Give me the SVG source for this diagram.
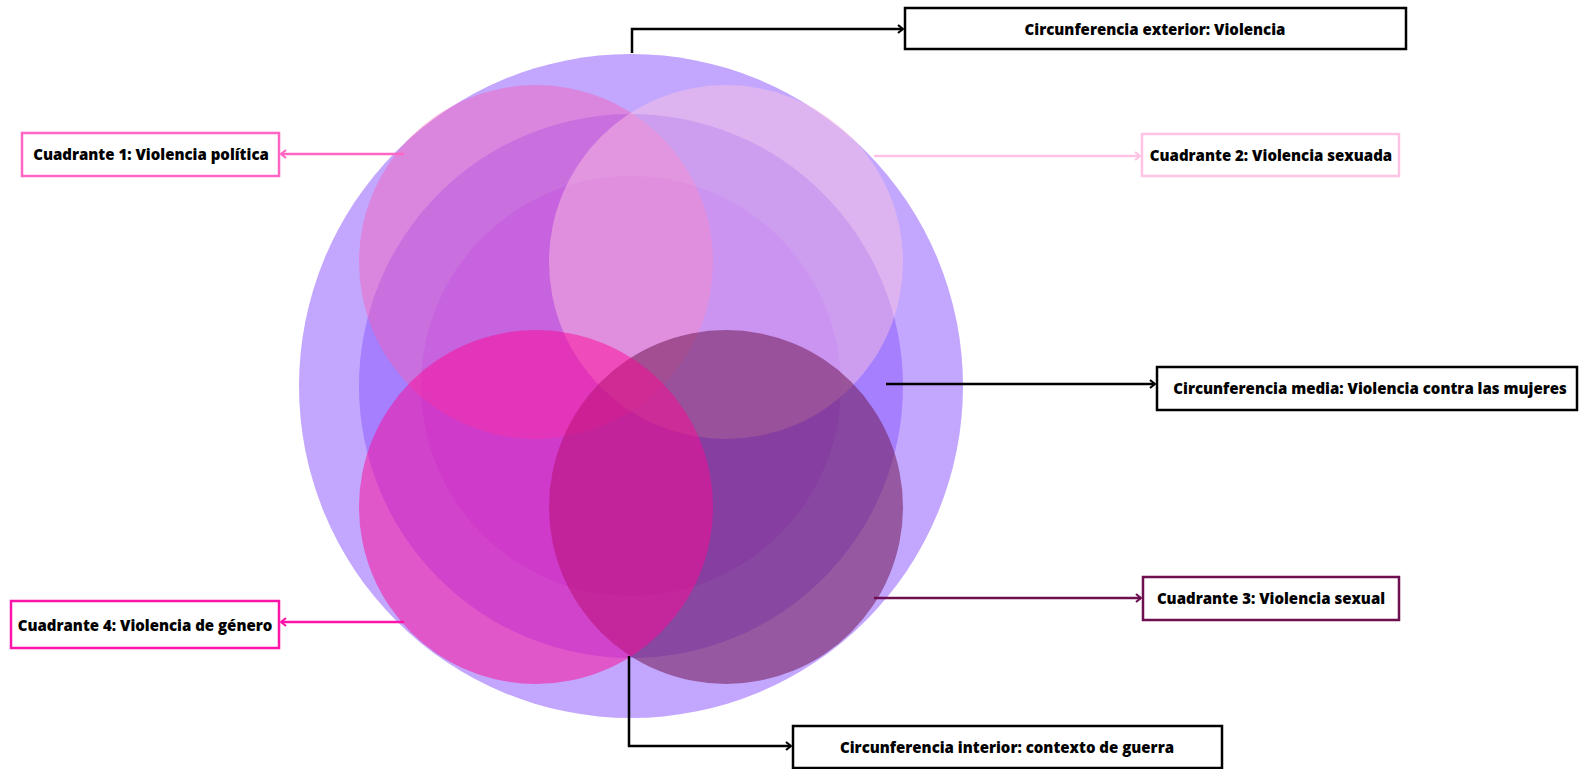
<svg xmlns="http://www.w3.org/2000/svg" width="1579" height="769" viewBox="0 0 1579 769">
<defs>
<style>
.lbl{font-family:"Open Sans","Liberation Sans",sans-serif;font-weight:800;font-size:15px;fill:#000;text-anchor:middle;dominant-baseline:central}
.box{fill:#fff;stroke-width:2.5}
.con{fill:none;stroke-width:2.5}
</style>
<marker id="ah-k" viewBox="0 0 10 10" refX="9" refY="5" markerWidth="10" markerHeight="10" markerUnits="userSpaceOnUse" orient="auto"><path d="M4,1 L9,5 L4,9" fill="none" stroke="#000" stroke-width="2.2"/></marker>
<marker id="ah-p1" viewBox="0 0 10 10" refX="9" refY="5" markerWidth="10" markerHeight="10" markerUnits="userSpaceOnUse" orient="auto"><path d="M4,1 L9,5 L4,9" fill="none" stroke="#FF66C4" stroke-width="2.2"/></marker>
<marker id="ah-p2" viewBox="0 0 10 10" refX="9" refY="5" markerWidth="10" markerHeight="10" markerUnits="userSpaceOnUse" orient="auto"><path d="M4,1 L9,5 L4,9" fill="none" stroke="#FFC3E6" stroke-width="2.2"/></marker>
<marker id="ah-p3" viewBox="0 0 10 10" refX="9" refY="5" markerWidth="10" markerHeight="10" markerUnits="userSpaceOnUse" orient="auto"><path d="M4,1 L9,5 L4,9" fill="none" stroke="#6E0F50" stroke-width="2.2"/></marker>
<marker id="ah-p4" viewBox="0 0 10 10" refX="9" refY="5" markerWidth="10" markerHeight="10" markerUnits="userSpaceOnUse" orient="auto"><path d="M4,1 L9,5 L4,9" fill="none" stroke="#FF14A8" stroke-width="2.2"/></marker>
</defs>
<rect width="1579" height="769" fill="#fff"/>
<g id="circles">
<circle id="outer" cx="631" cy="386" r="332" fill="#C3A6FE"/>
<circle id="middle" cx="631" cy="386" r="272" fill="#A57FFE"/>
<circle id="inner" cx="631" cy="386" r="210" fill="#A26CFF"/>
<circle id="q1" cx="536" cy="262" r="177" fill="#FF58AE" fill-opacity="0.4"/>
<circle id="q2" cx="726" cy="262" r="177" fill="#FFC5DF" fill-opacity="0.45"/>
<circle id="q3" cx="726" cy="507" r="177" fill="#711A53" fill-opacity="0.55"/>
<circle id="q4" cx="536" cy="507" r="177" fill="#FD0896" fill-opacity="0.5"/>
</g>
<g id="connectors">
<path class="con" stroke="#000" d="M632,53 V29 H903" marker-end="url(#ah-k)"/>
<path class="con" stroke="#FF66C4" d="M404,154 H281" marker-end="url(#ah-p1)"/>
<path class="con" stroke="#FFC3E6" d="M874,156 H1140" marker-end="url(#ah-p2)"/>
<path class="con" stroke="#000" d="M886,384 H1155" marker-end="url(#ah-k)"/>
<path class="con" stroke="#6E0F50" d="M874,598 H1141" marker-end="url(#ah-p3)"/>
<path class="con" stroke="#FF14A8" d="M404,622 H281" marker-end="url(#ah-p4)"/>
<path class="con" stroke="#000" d="M629,656 V746 H791" marker-end="url(#ah-k)"/>
</g>
<g id="n-exterior">
<rect class="box" x="905" y="8" width="501" height="41" stroke="#000"/>
<text class="lbl" x="1155" y="29">Circunferencia exterior: Violencia</text>
</g>
<g id="n-q1">
<rect class="box" x="22" y="133" width="257" height="43" stroke="#FF66C4"/>
<text class="lbl" x="151" y="154">Cuadrante 1: Violencia política</text>
</g>
<g id="n-q2">
<rect class="box" x="1142" y="134" width="257" height="42" stroke="#FFC3E6"/>
<text class="lbl" x="1271" y="155">Cuadrante 2: Violencia sexuada</text>
</g>
<g id="n-media">
<rect class="box" x="1157" y="367" width="420" height="43" stroke="#000"/>
<text class="lbl" x="1370" y="388">Circunferencia media: Violencia contra las mujeres</text>
</g>
<g id="n-q3">
<rect class="box" x="1143" y="577" width="256" height="43" stroke="#6E0F50"/>
<text class="lbl" x="1271" y="598">Cuadrante 3: Violencia sexual</text>
</g>
<g id="n-q4">
<rect class="box" x="11" y="601" width="268" height="47" stroke="#FF14A8"/>
<text class="lbl" x="145" y="625">Cuadrante 4: Violencia de género</text>
</g>
<g id="n-interior">
<rect class="box" x="793" y="726" width="429" height="42" stroke="#000"/>
<text class="lbl" x="1007" y="747">Circunferencia interior: contexto de guerra</text>
</g>
</svg>
